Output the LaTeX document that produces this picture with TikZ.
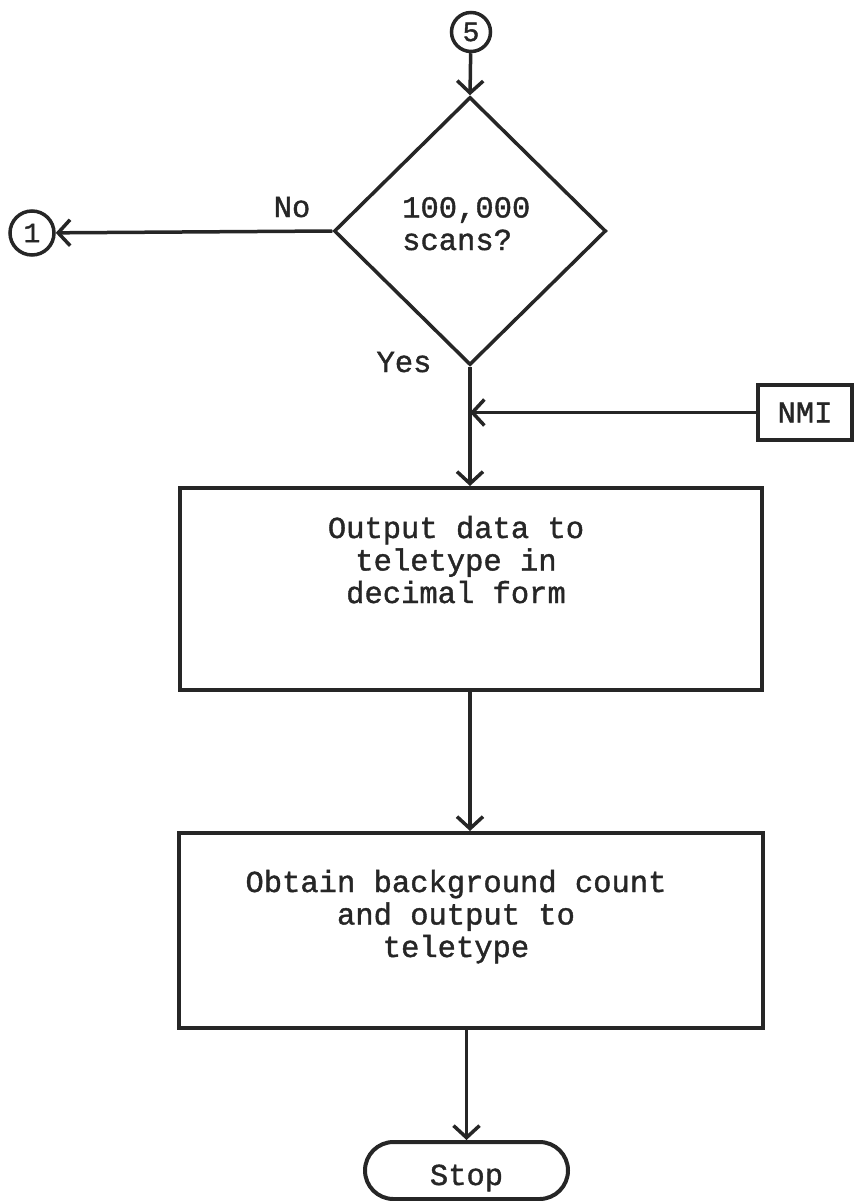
\documentclass[tikz,border=0pt]{standalone}
\usepackage{fontspec}
\setmonofont{Liberation Mono}[FakeBold=1.3]
\usetikzlibrary{arrows.meta,shapes.geometric,shapes.misc}
\definecolor{inkc}{HTML}{262626}
\begin{document}
\begin{tikzpicture}[x=1pt,y=-1pt,
  ink/.style={draw=inkc, line width=3.5pt},
  txt/.style={font=\fontsize{30.5}{32.5}\selectfont\ttfamily, text=inkc, inner sep=0pt},
  flow/.style={ink, -{Straight Barb[length=12pt,width=26pt]}},
  procbox/.style={ink, line width=4pt, rectangle, inner sep=0pt},
  connector/.style={ink, circle, inner sep=0pt, text=inkc,
    font=\fontsize{28}{30}\selectfont\ttfamily},
  decision/.style={ink, diamond, inner sep=0pt, minimum width=272pt, minimum height=268pt}
]
\path[use as bounding box] (0,0) rectangle (855,1201);

% entry connector and the decision
\node[connector, minimum size=39pt] (c5) at (471,32) {5};
\node[decision] (dia) at (470,231) {};
\node[txt, anchor=base west, align=left] (q) at (402,250) {100,000\\scans?};
\node[txt, anchor=base] (no) at (292,217) {No};
\node[txt, anchor=base] (yes) at (404,372) {Yes};
\node[connector, minimum size=44pt] (c1) at (32,233) {1};

% interrupt entry
\node[procbox, txt, minimum width=94pt, minimum height=55pt] (nmi) at (805,412.5) {NMI};
\coordinate (j) at (dia.south |- nmi.west);

% process boxes
\node[procbox, minimum width=582pt, minimum height=202pt] (box1) at (471,589) {};
\node[txt, anchor=base, align=center] (t1) at (456,603) {Output data to\\teletype in\\decimal form};
\node[procbox, minimum width=584pt, minimum height=195pt] (box2) at (471,930.5) {};
\node[txt, anchor=base, align=center] (t2) at (456,957) {Obtain background count\\and output to\\teletype};

% terminator
\node[procbox, rounded rectangle, minimum width=203pt, minimum height=57pt] (stop) at (466.5,1170.5) {};
\node[txt, anchor=base] (st) at (466.5,1185) {Stop};

% connectors
\draw[flow] (c5) -- (dia.north);
\draw[flow] (dia.west) -- (c1);
\draw[flow] (dia.south) -- (dia.south |- box1.north);
\draw[flow] (nmi.west) -- (j);
\draw[flow] (dia.south |- box1.south) -- (dia.south |- box2.north);
\draw[flow] (stop.north |- box2.south) -- (stop.north);
\end{tikzpicture}
\end{document}
